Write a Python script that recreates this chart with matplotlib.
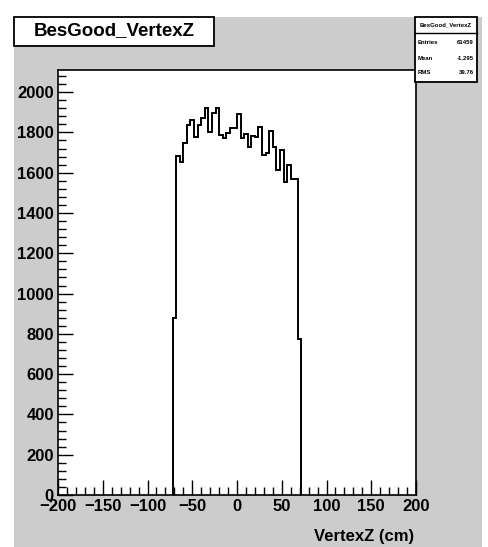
import matplotlib
matplotlib.use("Agg")
import matplotlib.pyplot as plt
import numpy as np
from matplotlib.patches import Rectangle
from matplotlib.ticker import MultipleLocator

# ---------------------------------------------------------------------------
# Data: 36 bins of 4 cm between -72 and 72 cm
# ---------------------------------------------------------------------------
BIN_LOW = -72
BIN_WIDTH = 4
counts = [
    878, 1683, 1653, 1749, 1837, 1860, 1779, 1837, 1873, 1920,
    1800, 1896, 1920, 1786, 1771, 1796, 1824, 1824, 1890, 1773,
    1793, 1728, 1780, 1778, 1829, 1688, 1697, 1807, 1728, 1616,
    1712, 1556, 1639, 1568, 1568, 776,
]
edges = BIN_LOW + BIN_WIDTH * np.arange(len(counts) + 1)

hist_name = "BesGood_VertexZ"
stats_rows = [("Entries", "61459"), ("Mean", "-1.295"), ("RMS", "39.76")]
x_label = "VertexZ (cm)"

FONT = "Liberation Sans"
W, H = 488, 547


def fx(px):
    return px / W


def fy(py):
    return 1 - py / H


fig = plt.figure(figsize=(W / 100, H / 100), dpi=100)
fig.patch.set_facecolor("white")

# ROOT-style grey canvas, kept behind the axes
fig.patches.append(Rectangle((fx(14), 0), fx(482) - fx(14), fy(17),
                             transform=fig.transFigure, facecolor="#cccccc",
                             edgecolor="none", zorder=-5))

ax = fig.add_axes([fx(58), fy(495), fx(416) - fx(58), fy(70) - fy(495)])
ax.set_zorder(1)
ax.set_facecolor("white")
ax.stairs(counts, edges, color="black", linewidth=1.4, baseline=0)

ax.set_xlim(-200, 200)
ax.set_ylim(0, 2110)
ax.xaxis.set_major_locator(MultipleLocator(50))
ax.xaxis.set_minor_locator(MultipleLocator(10))
ax.yaxis.set_major_locator(MultipleLocator(200))
ax.yaxis.set_minor_locator(MultipleLocator(40))
ax.tick_params(which="both", direction="in", top=False, right=False,
               width=1.0, color="black")
ax.tick_params(which="major", length=11, pad=3)
ax.tick_params(which="minor", length=6)
for lab in ax.get_xticklabels() + ax.get_yticklabels():
    lab.set_fontfamily(FONT)
    lab.set_fontweight("bold")
    lab.set_fontsize(12)
for sp in ax.spines.values():
    sp.set_linewidth(1.2)

fig.text(fx(414), fy(537), x_label, ha="right", va="center",
         fontfamily=FONT, fontweight="bold", fontsize=12)

# title box
fig.patches.append(Rectangle((fx(14), fy(46)), fx(214) - fx(14), fy(17) - fy(46),
                             transform=fig.transFigure, facecolor="white",
                             edgecolor="black", linewidth=1.3, zorder=3))
fig.text(fx(114), fy(31), hist_name, ha="center", va="center",
         fontfamily=FONT, fontweight="bold", fontsize=13.5, zorder=4)

# stats box, drawn over the top-right corner of the frame
fig.patches.append(Rectangle((fx(415), fy(82)), fx(477) - fx(415), fy(17) - fy(82),
                             transform=fig.transFigure, facecolor="white",
                             edgecolor="black", linewidth=1.3, zorder=3))
fig.lines.append(plt.Line2D([fx(415), fx(477)], [fy(33), fy(33)],
                            transform=fig.transFigure, color="black",
                            linewidth=1.0, zorder=4))
fig.text(fx(446), fy(25), hist_name, ha="center", va="center",
         fontfamily=FONT, fontweight="bold", fontsize=4.3, zorder=4)
for i, (name, val) in enumerate(stats_rows):
    y = fy(43 + 15 * i)
    fig.text(fx(418), y, name, ha="left", va="center", fontfamily=FONT,
             fontweight="bold", fontsize=4.3, zorder=4)
    fig.text(fx(474), y, val, ha="right", va="center", fontfamily=FONT,
             fontweight="bold", fontsize=4.3, zorder=4)

fig.savefig("out.png", dpi=100)
